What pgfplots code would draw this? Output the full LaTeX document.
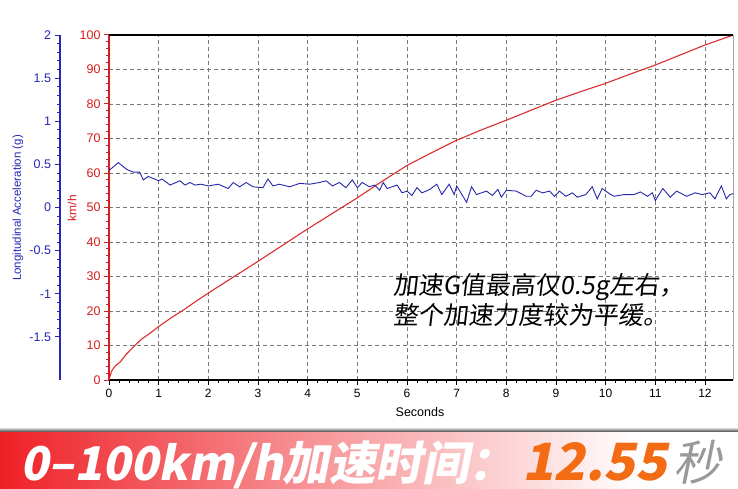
\documentclass[border=0pt]{standalone}
\usepackage{pgfplots}
\pgfplotsset{compat=1.18}
\usepackage{fontspec}
\setmainfont{Liberation Sans}
\newfontfamily\cjki{Noto Sans CJK SC}[FakeSlant=0.12]
\newfontfamily\bannerin{Noto Sans CJK SC}[FakeSlant=0.2]
\definecolor{redaxis}{RGB}{215,30,30}
\definecolor{redline}{RGB}{220,45,45}
\definecolor{blueaxis}{RGB}{40,40,180}
\definecolor{blueline}{RGB}{40,40,170}
\definecolor{bannerred}{RGB}{238,32,38}
\definecolor{orangenum}{RGB}{243,107,18}
\definecolor{gridgray}{RGB}{120,120,120}

\pgfplotstableread{
t v
0 0
0.05 2.5
0.12 4.0
0.23 5.3
0.35 7.5
0.5 9.7
0.65 11.8
0.83 13.6
1.0 15.5
1.25 18.0
1.5 20.3
1.75 22.8
2.0 25.2
2.5 29.8
3.0 34.4
3.5 39.1
4.0 43.8
4.5 48.3
5.0 52.8
5.5 57.6
6.0 62.2
6.5 65.9
7.0 69.5
7.5 72.5
8.0 75.3
8.5 78.2
9.0 81.1
9.5 83.6
10.0 86.0
10.5 88.7
11.0 91.3
11.5 94.2
12.0 97.1
12.57 100
}\speed

\pgfplotstableread{
t g
0 0.43
0.19 0.52
0.36 0.44
0.49 0.41
0.62 0.41
0.69 0.32
0.79 0.36
1.0 0.31
1.07 0.33
1.23 0.26
1.43 0.31
1.53 0.26
1.63 0.29
1.73 0.26
1.85 0.27
2.0 0.25
2.2 0.27
2.4 0.22
2.5 0.29
2.63 0.24
2.76 0.29
2.9 0.24
3.1 0.23
3.2 0.33
3.3 0.25
3.43 0.27
3.64 0.24
3.84 0.28
4.04 0.27
4.24 0.29
4.37 0.31
4.5 0.25
4.64 0.29
4.77 0.23
4.9 0.32
5.0 0.23
5.1 0.29
5.24 0.24
5.35 0.26
5.45 0.20
5.52 0.29
5.6 0.22
5.8 0.26
5.9 0.17
6.0 0.19
6.1 0.14
6.2 0.23
6.3 0.17
6.46 0.21
6.6 0.27
6.7 0.15
6.85 0.27
6.95 0.15
7.0 0.25
7.2 0.06
7.3 0.24
7.4 0.15
7.6 0.19
7.72 0.14
7.83 0.21
7.9 0.12
8.0 0.20
8.2 0.19
8.4 0.13
8.5 0.13
8.6 0.20
8.73 0.17
8.87 0.19
8.97 0.13
9.07 0.19
9.2 0.13
9.33 0.17
9.43 0.12
9.6 0.15
9.73 0.24
9.83 0.10
9.93 0.22
10.1 0.15
10.17 0.13
10.37 0.15
10.57 0.15
10.7 0.18
10.84 0.13
10.94 0.17
11.0 0.08
11.15 0.22
11.3 0.12
11.43 0.19
11.63 0.13
11.8 0.17
11.94 0.15
12.1 0.17
12.2 0.10
12.33 0.25
12.43 0.10
12.5 0.15
12.57 0.16
}\accel

\begin{document}
\begin{tikzpicture}[x=1pt,y=1pt]
\path[use as bounding box] (0,0) rectangle (738,488);
\fill[white] (0,0) rectangle (738,488);

% main axis (speed)
\begin{axis}[
  at={(109pt,108pt)}, anchor=south west,
  scale only axis, width=624.3pt, height=345pt,
  xmin=0, xmax=12.57, ymin=0, ymax=100,
  axis x line*=bottom, axis y line*=left,
  x axis line style={-, black, line width=2pt},
  y axis line style={-, redaxis, line width=2pt},
  xtick={0,1,...,12}, ytick={0,10,...,100},
  minor x tick num=4, minor y tick num=4,
  tick align=outside,
  major tick length=5pt, minor tick length=3pt,
  xtick style={black, line width=0.7pt},
  ytick style={redaxis, line width=1pt},
  grid=major,
  major grid style={gridgray, dash pattern=on 4pt off 3pt, line width=0.7pt},
  minor grid style={draw=none},
  /pgf/number format/assume math mode=true,
  xticklabel style={font=\fontsize{12}{12}\selectfont, text=black, yshift=-1pt},
  yticklabel style={font=\fontsize{12.5}{12.5}\selectfont, text=redaxis},
  clip=false,
]
\addplot[redline, line width=1.1pt] table[x=t, y=v] {\speed};
\draw[black, line width=1.5pt] (rel axis cs:0,1) -- (rel axis cs:1,1);
\draw[gray!70, line width=0.6pt] (rel axis cs:1,0) -- (rel axis cs:1,1);
\end{axis}

% acceleration data (hidden axis)
\begin{axis}[
  at={(109pt,108pt)}, anchor=south west,
  scale only axis, width=624.3pt, height=345pt,
  xmin=0, xmax=12.57, ymin=-2, ymax=2,
  hide axis,
]
\addplot[blueline, line width=0.9pt] table[x=t, y=g] {\accel};
\end{axis}

% acceleration scale
\begin{axis}[
  at={(59.5pt,108pt)}, anchor=south west,
  scale only axis, width=49.5pt, height=345pt,
  xmin=0, xmax=1, ymin=-2, ymax=2,
  axis x line=none, axis y line*=left,
  y axis line style={-, blueaxis, line width=2pt},
  ytick={-1.5,-1,...,2},
  minor y tick num=4,
  tick align=outside,
  major tick length=5pt, minor tick length=3pt,
  ytick style={blueaxis, line width=1pt},
  /pgf/number format/assume math mode=true,
  yticklabel style={font=\fontsize{12.5}{12.5}\selectfont, text=blueaxis},
]
\addplot[draw=none] coordinates {(0.5,0)};
\end{axis}

% axis titles
\node[rotate=90, text=redaxis, font=\fontsize{12}{12}\selectfont] at (72,280) {km/h};
\node[rotate=90, text=blueaxis, font=\fontsize{11.5}{11.5}\selectfont] at (18,280) {Longitudinal Acceleration (g)};
\node[text=black, font=\fontsize{12.5}{12.5}\selectfont] at (420,76) {Seconds};

% annotation
\begin{scope}[font=\fontsize{25}{25}\selectfont]
\node[anchor=base west, inner sep=0pt, text=black] at (393,194) {\cjki 加速G值最高仅0.5g左右，};
\node[anchor=base west, inner sep=0pt, text=black] at (393,164) {\cjki 整个加速力度较为平缓。};
\end{scope}

% banner
\shade[left color=bannerred, right color=bannerred!45!white] (0,0) rectangle (330,57);
\shade[left color=bannerred!45!white, right color=white] (330,0) rectangle (640,57);
\fill[white] (640,0) rectangle (738,57);
\shade[top color=gray!30, bottom color=gray!80!black] (0,57) rectangle (738,60);

\begin{scope}[font=\fontsize{50}{50}\selectfont]
\node[anchor=base west, inner sep=0pt, text=white] at (20,8) {\resizebox{495pt}{!}{\bannerin\bfseries 0–100km/h加速时间：}};
\node[anchor=base west, inner sep=0pt, text=orangenum] at (522,8) {\resizebox{145pt}{38pt}{\bannerin\bfseries 12.55}};
\node[anchor=base west, inner sep=0pt, text=black!40] at (673,8) {\resizebox{48pt}{!}{\bannerin 秒}};
\end{scope}
\end{tikzpicture}
\end{document}
